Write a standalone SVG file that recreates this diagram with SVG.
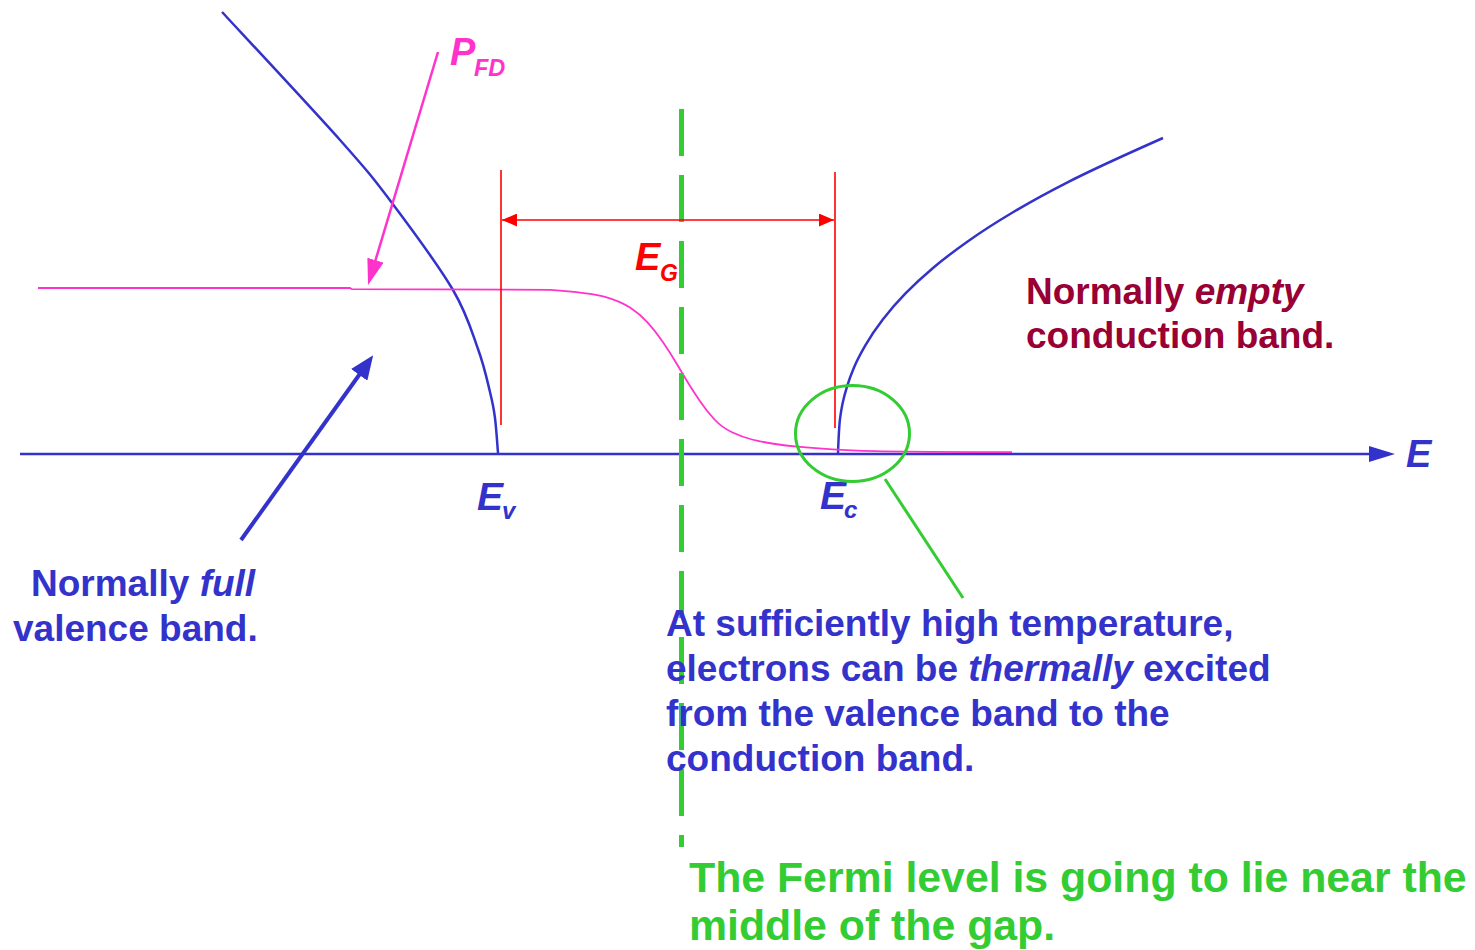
<svg xmlns="http://www.w3.org/2000/svg" width="1475" height="950" viewBox="0 0 1475 950">
<style>
text{font-family:"Liberation Sans",Arial,sans-serif;font-weight:bold}
.it{font-style:italic}
.blue{fill:#3333CC}
.pink{fill:#FF33CC}
.red{fill:#FF0000}
.green{fill:#33CC33}
.crim{fill:#990033}
.bcurve{fill:none;stroke:#3333CC;stroke-width:2.5}
.pline{fill:none;stroke:#FF33CC;stroke-width:1.8}
.rline{fill:none;stroke:#FF0000;stroke-width:1.6}
.gline{fill:none;stroke:#33CC33;stroke-width:3}
.t37{font-size:37px}
.t42{font-size:42.8px}
</style>
<defs>
<marker id="axisHead" markerUnits="userSpaceOnUse" markerWidth="26" markerHeight="16" refX="20" refY="8" orient="auto"><path d="M0,0 L26,8 L0,16 z" fill="#3333CC"/></marker>
<marker id="blueHead" markerUnits="userSpaceOnUse" markerWidth="24" markerHeight="20" refX="6" refY="10" orient="auto"><path d="M0,0 L24,10 L0,20 z" fill="#3333CC"/></marker>
<marker id="pinkHead" markerUnits="userSpaceOnUse" markerWidth="26" markerHeight="17" refX="6" refY="8.5" orient="auto"><path d="M0,0 L26,8.5 L0,17 z" fill="#FF33CC"/></marker>
<marker id="redHead" markerUnits="userSpaceOnUse" markerWidth="15" markerHeight="13" refX="15" refY="6.5" orient="auto-start-reverse"><path d="M0,0 L15,6.5 L0,13 z" fill="#FF0000"/></marker>
</defs>

<g id="axis">
<line x1="20" y1="454" x2="1389" y2="454" stroke="#3333CC" stroke-width="2.5" marker-end="url(#axisHead)"/>
<text x="1406" y="467" class="blue it" font-size="38">E</text>
</g>

<g id="valence-band">
<path class="bcurve" d="M222,12 C241.7,33.3 311.7,108.2 340,140 C368.3,171.8 373.2,178 392,203 C410.8,228 438.7,265.7 453,290 C467.3,314.3 471.8,332 478,349 C484.2,366 487.2,380.5 490,392 C492.8,403.5 493.7,407.8 495,418 C496.3,428.2 497.5,447.2 498,453"/>
</g>

<g id="conduction-band">
<path class="bcurve" d="M838,453 Q839,426.8 840,418.9 Q841,411 842.5,403.7 Q844,396.4 847,386.6 Q850,376.8 854,367.4 Q858,358 865.5,345.1 Q873,332.2 883,319.25 Q893,306.3 905.5,293.45 Q918,280.6 933,267.95 Q948,255.3 968,241.2 Q988,227.1 1013,212.25 Q1038,197.4 1068,182.1 Q1098,166.8 1163,138"/>
</g>

<g id="fermi-dirac">
<path class="pline" d="M38,288 L350,288 L352,289.2 L550,289.8 Q590,292.6 605,296.8 Q620,301 630,307.55 Q640,314.1 647.5,322.3 Q655,330.5 662.5,341.5 Q670,352.5 675.5,361.75 Q681,371 686.5,380.25 Q692,389.5 699.5,400.5 Q707,411.5 714.5,419.5 Q722,427.5 732,432.25 Q742,437 752,439.5 Q762,442 773.5,443.75 Q785,445.5 800,446.85 Q815,448.2 832.5,449.35 Q850,450.5 875,451.1 Q900,451.7 1012,452.2"/>
</g>

<g id="fermi-level">
<line x1="681.5" y1="109" x2="681.5" y2="847" stroke="#33CC33" stroke-width="5" stroke-dasharray="47 19"/>
</g>

<g id="gap">
<line class="rline" x1="501" y1="170" x2="501" y2="425"/>
<line class="rline" x1="835" y1="172" x2="835" y2="428"/>
<line class="rline" x1="502" y1="220" x2="834" y2="220" marker-start="url(#redHead)" marker-end="url(#redHead)"/>
<text x="635" y="270" class="red it" font-size="38">E</text>
<text x="660" y="281" class="red it" font-size="23">G</text>
</g>

<g id="ev-label">
<text x="477" y="510" class="blue it" font-size="39">E</text>
<text x="502" y="519" class="blue it" font-size="24">v</text>
</g>

<g id="ec-label">
<text x="820" y="509" class="blue it" font-size="39">E</text>
<text x="844" y="518" class="blue it" font-size="24">c</text>
</g>

<g id="pfd-label">
<text x="450" y="65" class="pink it" font-size="38">P</text>
<text x="474" y="76" class="pink it" font-size="23.5">FD</text>
</g>

<g id="connectors">
<line x1="438" y1="52" x2="373.8" y2="265.9" stroke="#FF33CC" stroke-width="2.5" marker-end="url(#pinkHead)"/>
<line x1="241" y1="540" x2="362.7" y2="370" stroke="#3333CC" stroke-width="4" marker-end="url(#blueHead)"/>
<line class="gline" x1="885" y1="479" x2="963" y2="598"/>
</g>

<g id="ec-circle">
<ellipse class="gline" cx="852.5" cy="433.5" rx="57" ry="48"/>
</g>

<g id="valence-text">
<text x="31" y="596" class="blue t37">Normally <tspan class="it">full</tspan></text>
<text x="13" y="641" class="blue t37">valence band.</text>
</g>

<g id="conduction-text">
<text x="1026" y="304" class="crim t37">Normally <tspan class="it">empty</tspan></text>
<text x="1026" y="348" class="crim t37">conduction band.</text>
</g>

<g id="thermal-text">
<text x="666" y="636" class="blue t37">At sufficiently high temperature,</text>
<text x="666" y="681" class="blue t37">electrons can be <tspan class="it">thermally</tspan> excited</text>
<text x="666" y="726" class="blue t37">from the valence band to the</text>
<text x="666" y="771" class="blue t37">conduction band.</text>
</g>

<g id="fermi-text">
<text x="689" y="892" class="green t42">The Fermi level is going to lie near the</text>
<text x="689" y="940" class="green t42">middle of the gap.</text>
</g>
</svg>
